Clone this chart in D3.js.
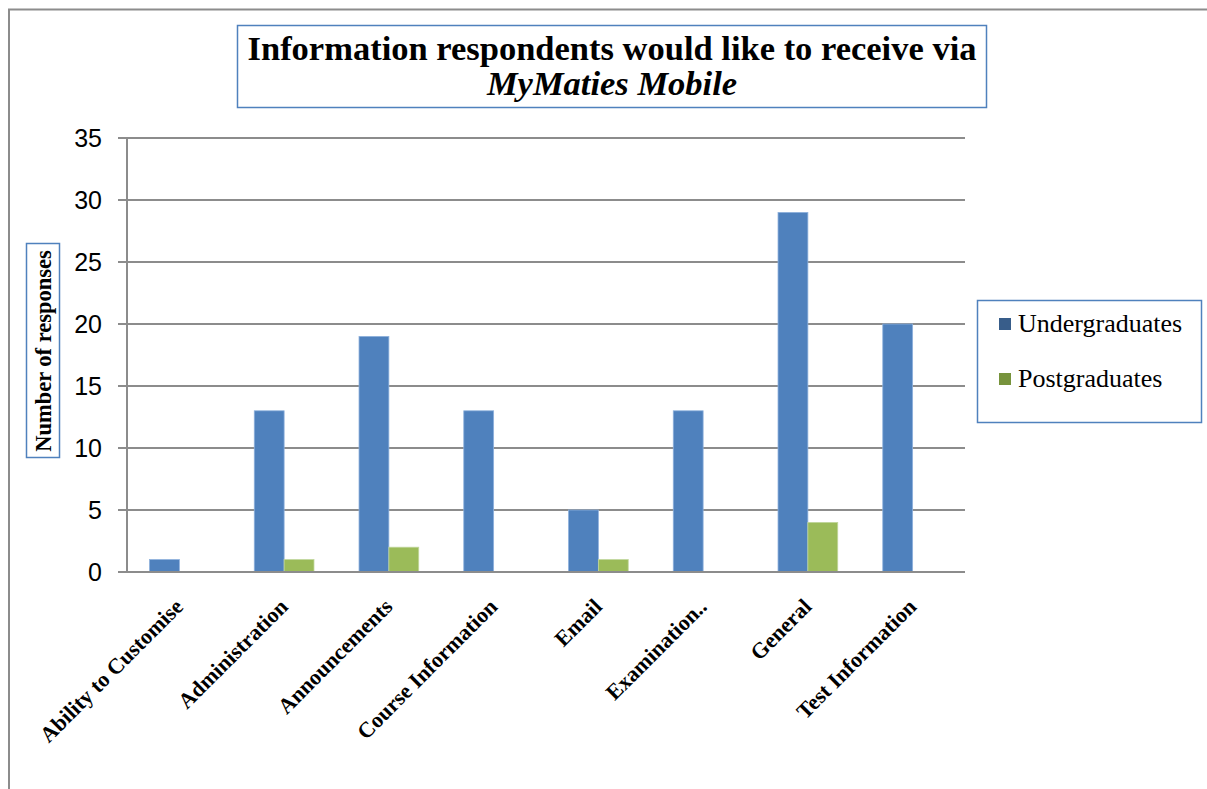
<!DOCTYPE html>
<html lang="en">
<head>
    <meta charset="UTF-8">
    <title>Information respondents would like to receive via MyMaties Mobile</title>
    <style>
        body { margin: 0; background: #fff; }
        .grid line { stroke: #8c8c8c; stroke-width: 2px; }
        .axis text { font-family: "Liberation Sans", sans-serif; font-size: 25px; fill: #000; }
        .xlabel { font-family: "Liberation Serif", serif; font-weight: bold; font-size: 22px; }
    </style>
</head>
<body>
    <div id="chart"></div>

    <script src="https://d3js.org/d3.v7.min.js"></script>
    <script>
        const categories = ["Ability to Customise", "Administration", "Announcements", "Course Information",
            "Email", "Examination..", "General", "Test Information"];
        const seriesNames = ["Undergraduates", "Postgraduates"];
        const undergraduates = [1, 13, 19, 13, 5, 13, 29, 20];
        const postgraduates = [0, 1, 2, 0, 1, 0, 4, 0];
        const yTicks = [0, 5, 10, 15, 20, 25, 30, 35];
        const colors = ["#4f81bd", "#9bbb59"];

        const width = 1207;
        const height = 789;
        const plot = { left: 127, right: 965, top: 138, bottom: 572 };

        const svg = d3.select("#chart").append("svg")
            .attr("width", width)
            .attr("height", height);

        // outer frame (top and left edges visible)
        svg.append("path")
            .attr("d", `M9,${height} L9,9.5 L${width},9.5`)
            .attr("fill", "none")
            .attr("stroke", "#8c8c8c")
            .attr("stroke-width", 2);

        const x = d3.scaleBand()
            .domain(categories)
            .range([plot.left, plot.right])
            .paddingInner(0.43)
            .paddingOuter(0.215);

        const xs = d3.scaleBand()
            .domain(seriesNames)
            .range([0, x.bandwidth()]);

        const y = d3.scaleLinear()
            .domain([0, 35])
            .range([plot.bottom, plot.top]);

        // gridlines + tick marks
        svg.append("g")
            .attr("class", "grid")
            .selectAll("line")
            .data(yTicks)
            .enter().append("line")
            .attr("x1", plot.left - 9)
            .attr("x2", plot.right)
            .attr("y1", d => y(d))
            .attr("y2", d => y(d));

        // y axis labels
        const yAxis = d3.axisLeft(y).tickValues(yTicks).tickSize(0).tickPadding(25);
        const yg = svg.append("g")
            .attr("class", "axis")
            .attr("transform", `translate(${plot.left},0)`)
            .call(yAxis);
        yg.select(".domain").remove();
        yg.selectAll("text").attr("dy", "0.35em");

        // y axis line
        svg.append("line")
            .attr("x1", plot.left).attr("x2", plot.left)
            .attr("y1", plot.top).attr("y2", plot.bottom)
            .attr("stroke", "#8c8c8c")
            .attr("stroke-width", 2);

        // bars
        const rows = categories.map((c, i) => ({ cat: c, values: [undergraduates[i], postgraduates[i]] }));
        const groups = svg.append("g").selectAll("g")
            .data(rows)
            .enter().append("g")
            .attr("transform", d => `translate(${x(d.cat)},0)`);

        groups.selectAll("rect")
            .data(d => d.values.map((v, j) => ({ name: seriesNames[j], value: v, j: j })))
            .enter().filter(d => d.value > 0).append("rect")
            .attr("x", d => xs(d.name))
            .attr("width", xs.bandwidth())
            .attr("y", d => y(d.value))
            .attr("height", d => y(0) - y(d.value))
            .attr("fill", d => colors[d.j])
            .attr("stroke", d => d.j === 0 ? "#8eb1dc" : "#c0d69b")
            .attr("stroke-width", 0.8);

        // x baseline over bars
        svg.append("line")
            .attr("x1", plot.left - 9).attr("x2", plot.right)
            .attr("y1", plot.bottom).attr("y2", plot.bottom)
            .attr("stroke", "#8c8c8c")
            .attr("stroke-width", 2);

        // category labels, rotated
        svg.append("g").selectAll("text")
            .data(categories)
            .enter().append("text")
            .attr("class", "xlabel")
            .attr("text-anchor", "end")
            .attr("transform", d => `translate(${x(d) + x.bandwidth() / 2 + 5},${plot.bottom + 36}) rotate(-45)`)
            .text(d => d);

        // title box
        svg.append("rect")
            .attr("x", 237.5).attr("y", 25.5)
            .attr("width", 749).attr("height", 82)
            .attr("fill", "#fff")
            .attr("stroke", "#4f81bd")
            .attr("stroke-width", 1.5);
        const title = svg.append("text")
            .attr("x", 612)
            .attr("text-anchor", "middle")
            .style("font-family", "Liberation Serif, serif")
            .style("font-weight", "bold")
            .style("font-size", "34.5px");
        title.append("tspan").attr("x", 612).attr("y", 60)
            .text("Information respondents would like to receive via");
        title.append("tspan").attr("x", 612).attr("y", 95)
            .style("font-style", "italic")
            .text("MyMaties Mobile");

        // y axis title box
        svg.append("rect")
            .attr("x", 26.5).attr("y", 243.5)
            .attr("width", 33).attr("height", 214)
            .attr("fill", "#fff")
            .attr("stroke", "#4f81bd")
            .attr("stroke-width", 1.5);
        svg.append("text")
            .attr("transform", "translate(51,351) rotate(-90)")
            .attr("text-anchor", "middle")
            .style("font-family", "Liberation Serif, serif")
            .style("font-weight", "bold")
            .style("font-size", "22.5px")
            .text("Number of responses");

        // legend
        svg.append("rect")
            .attr("x", 977.5).attr("y", 300.5)
            .attr("width", 224).attr("height", 122)
            .attr("fill", "#fff")
            .attr("stroke", "#4f81bd")
            .attr("stroke-width", 1.5);
        const leg = svg.append("g").selectAll("g")
            .data(seriesNames)
            .enter().append("g")
            .attr("transform", (d, i) => `translate(999,${318 + i * 55})`);
        leg.append("rect")
            .attr("width", 12).attr("height", 12)
            .attr("fill", (d, i) => i === 0 ? "#385d8a" : "#77933c");
        leg.append("text")
            .attr("x", 19).attr("y", 14)
            .style("font-family", "Liberation Serif, serif")
            .style("font-size", "26px")
            .text(d => d);
    </script>
</body>
</html>
